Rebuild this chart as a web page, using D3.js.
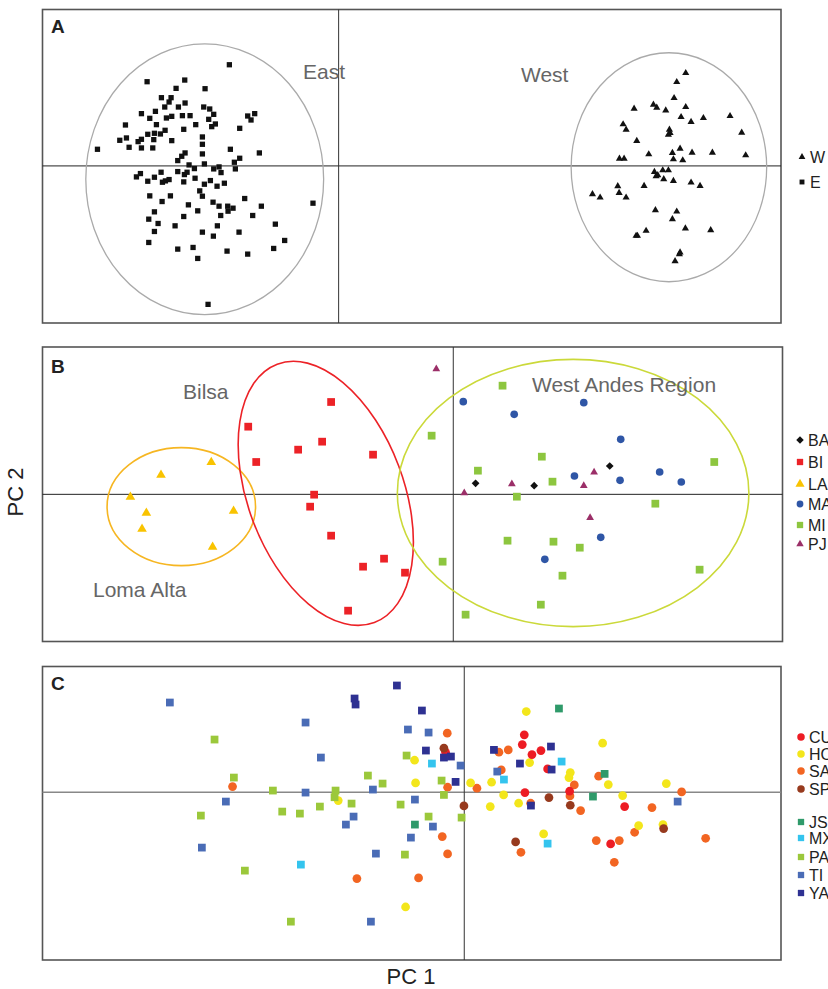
<!DOCTYPE html>
<html>
<head>
<meta charset="utf-8">
<script src="https://cdn.jsdelivr.net/npm/d3@7/dist/d3.min.js"></script>
<style>
  body { margin: 0; background: #fff; }
  svg text { font-family: "Liberation Sans", Arial, sans-serif; }
</style>
</head>
<body>
<div id="vis"></div>
<script>
// ---- panel A : East / West ----
const eastPts = [
  [-3.28,3.04],[-5.75,2.53],[-4.62,2.58],[-4.88,2.33],[-4.01,2.32],[-5.32,2.05],[-5.03,2.05],[-5.09,1.92],
  [-5.22,1.77],[-4.81,1.77],[-4.61,1.89],[-4.05,1.77],[-3.87,1.71],[-3.75,1.55],[-3.90,1.40],[-5.92,1.57],
  [-5.50,1.64],[-5.67,1.43],[-5.17,1.44],[-5.01,1.49],[-4.69,1.51],[-4.46,1.51],[-2.73,1.50],[-2.52,1.57],
  [-2.63,1.38],[-6.40,1.23],[-5.47,1.24],[-4.65,1.10],[-4.29,1.24],[-3.81,1.18],[-3.70,1.26],[-2.97,1.13],
  [-6.57,0.77],[-6.37,0.84],[-6.29,0.56],[-6.02,0.73],[-5.92,0.80],[-5.73,0.95],[-5.55,0.79],[-5.53,0.98],
  [-5.35,0.96],[-5.21,1.07],[-5.01,0.76],[-5.92,0.54],[-5.58,0.54],[-7.24,0.50],[-4.09,0.87],[-4.09,0.65],
  [-4.09,0.36],[-3.25,0.50],[-2.38,0.39],[-4.71,0.29],[-4.61,0.39],[-4.83,0.16],[-2.97,0.23],[-3.13,0.11],
  [-3.10,-0.09],[-4.49,0.03],[-4.33,-0.08],[-4.03,0.06],[-3.75,-0.09],[-3.59,-0.03],[-3.53,-0.20],[-6.07,-0.33],
  [-5.95,-0.23],[-5.73,-0.46],[-5.53,-0.34],[-5.33,-0.19],[-5.29,-0.49],[-5.20,-0.45],[-5.09,-0.41],[-4.83,-0.17],
  [-4.63,-0.26],[-4.55,-0.19],[-4.65,-0.48],[-4.31,-0.37],[-4.03,-0.55],[-3.85,-0.44],[-4.17,-0.75],[-4.09,-0.91],
  [-3.65,-0.61],[-3.43,-0.52],[-5.67,-0.90],[-5.05,-0.90],[-5.30,-1.07],[-4.51,-1.17],[-4.23,-1.35],[-4.65,-1.52],
  [-3.77,-1.09],[-3.59,-1.21],[-3.33,-1.21],[-3.32,-1.36],[-3.17,-1.27],[-3.54,-1.49],[-2.82,-0.98],[-2.32,-1.21],
  [-2.58,-1.49],[-0.77,-1.12],[-5.53,-1.38],[-5.70,-1.60],[-5.42,-1.73],[-4.91,-1.80],[-5.53,-1.97],[-5.70,-2.30],
  [-4.09,-1.99],[-3.76,-2.11],[-3.64,-1.80],[-2.99,-1.99],[-1.90,-1.75],[-4.83,-2.50],[-4.37,-2.45],[-4.23,-2.78],
  [-3.35,-2.56],[-2.73,-2.65],[-1.95,-2.48],[-1.62,-2.24],[-3.92,-4.16]
];
const westPts = [
  [10.42,2.79],[10.15,2.52],[10.07,2.04],[8.87,1.72],[9.45,1.84],[9.55,1.75],[9.82,1.67],[10.42,1.77],
  [10.28,1.47],[10.58,1.32],[10.95,1.44],[11.75,1.50],[8.54,1.25],[8.63,1.09],[9.93,1.09],[9.95,0.99],
  [9.90,0.94],[12.10,1.00],[8.95,0.75],[8.43,0.22],[8.57,0.22],[9.31,0.35],[10.02,0.39],[10.25,0.52],
  [10.05,0.20],[10.33,0.17],[10.61,0.40],[11.22,0.40],[12.22,0.32],[9.48,-0.18],[9.58,-0.28],[9.73,-0.13],
  [9.90,-0.13],[9.53,-0.31],[9.76,-0.40],[10.05,-0.45],[10.58,-0.50],[10.85,-0.60],[9.17,-0.60],[7.62,-0.85],
  [7.85,-0.95],[8.38,-0.61],[8.42,-0.81],[8.63,-0.95],[9.51,-1.33],[10.15,-1.37],[10.02,-1.60],[10.41,-1.88],
  [11.17,-1.93],[9.23,-1.95],[8.93,-2.10],[8.97,-2.10],[10.25,-2.60],[10.23,-2.65],[10.10,-2.86]
];
// ellipses: [cx, cy, rx, ry, angle]
const eastEllipse = [-4.02, -0.40, 3.57, 4.07, 0];
const westEllipse = [9.915, -0.04, 2.935, 3.44, 0];

// ---- panel B : west Ecuador sites ----
const baPts = [[0.67,0.33],[2.43,0.26],[4.70,0.85]];
const biPts = [[-3.67,2.77],[-6.16,2.03],[-5.92,0.97],[-4.66,1.34],[-3.94,1.58],[-2.41,1.19],[-4.18,-0.01],
  [-4.30,-0.37],[-3.67,-1.24],[-2.71,-2.17],[-2.08,-1.93],[-1.45,-2.35],[-3.16,-3.49]];
const laPts = [[-7.27,0.96],[-8.78,0.58],[-9.70,-0.08],[-9.22,-0.56],[-9.35,-1.04],[-6.60,-0.50],[-7.23,-1.58]];
const maPts = [[0.30,2.78],[1.83,2.40],[3.92,2.75],[5.03,1.65],[3.64,0.55],[5.01,0.42],[6.20,0.67],[6.85,0.37],
  [4.43,-1.29],[2.75,-1.95]];
const miPts = [[1.48,3.26],[-0.65,1.76],[2.66,1.13],[0.74,0.71],[2.98,0.38],[1.91,-0.07],[7.84,0.97],[6.07,-0.28],
  [1.63,-1.39],[3.01,-1.42],[3.80,-1.60],[-0.32,-2.02],[3.28,-2.44],[7.40,-2.26],[2.63,-3.31],[0.37,-3.61]];
const pjPts = [[-0.51,3.76],[0.33,0.04],[1.76,0.31],[4.23,0.66],[3.92,0.26],[4.11,-0.70]];
const laEllipse = [-8.17, -0.37, 2.23, 1.77, 0];
const biEllipse = [-3.83, 0.03, 2.34, 4.14, -20.6];
const miEllipse = [3.60, 0.04, 5.28, 4.01, 0];

// ---- panel C : east Ecuador sites ----
const cuPts = [[-0.56,1.20],[1.80,1.72],[1.74,1.43],[2.03,1.13],[2.30,1.25],[2.50,0.70],[1.82,-0.01],[3.16,0.03],
  [4.81,-0.43],[4.39,-1.55]];
const hoPts = [[-1.49,0.96],[-1.46,0.28],[-3.78,-0.25],[-1.76,-3.44],[1.86,2.42],[4.15,1.47],[1.96,0.89],[3.18,0.59],
  [3.14,0.44],[4.32,0.23],[0.19,0.28],[0.82,0.30],[1.18,-0.08],[0.78,-0.43],[1.63,-0.33],[2.38,-1.25],
  [4.75,-0.10],[6.06,0.26],[5.23,-1.00],[5.96,-0.97]];
const saPts = [[-6.95,0.17],[-3.22,-2.59],[-1.37,-2.57],[-0.66,-1.33],[-0.50,-1.85],[-0.51,1.77],[-0.50,0.15],
  [0.38,0.12],[1.04,1.20],[1.32,1.27],[1.11,0.67],[3.30,0.22],[4.03,0.48],[3.17,-0.11],[3.49,-0.55],[1.99,-0.33],
  [5.63,-0.46],[6.52,0.01],[5.11,-1.20],[4.65,-1.45],[3.96,-1.45],[4.50,-2.10],[1.70,-1.80],[7.24,-1.38]];
const spPts = [[-0.61,1.32],[-0.01,-0.41],[2.54,-0.16],[3.18,-0.39],[1.54,-1.49],[5.98,-1.09]];
const jsPts = [[-1.48,-0.97],[2.84,2.51],[4.21,0.55],[3.86,-0.13]];
const mxPts = [[-0.97,0.86],[-4.90,-2.17],[1.19,0.38],[2.92,0.92],[2.50,-1.54]];
const paPts = [[-7.49,1.58],[-6.91,0.44],[-5.74,0.05],[-3.86,0.05],[-3.89,-0.15],[-5.46,-0.58],[-4.93,-0.64],
  [-4.33,-0.43],[-7.90,-0.70],[-3.38,-0.34],[-2.89,0.50],[-2.45,0.26],[-1.73,1.10],[-1.91,-0.37],[-1.07,-0.73],
  [-1.78,-1.87],[-6.58,-2.35],[-5.20,-3.88],[-0.68,0.35],[-0.61,-0.08],[-0.08,-0.76]];
const tiPts = [[-8.83,2.69],[-4.76,2.09],[-4.30,1.04],[-7.15,-0.28],[-4.76,-0.01],[-7.87,-1.66],[-3.32,-0.73],
  [-3.55,-0.97],[-2.74,0.08],[-1.69,1.88],[-1.07,1.79],[-1.48,-0.22],[-0.94,-1.03],[-1.60,-1.36],[-2.65,-1.84],
  [-2.80,-3.88],[-0.11,0.80],[0.99,0.62],[6.40,-0.28]];
const yaPts = [[-2.02,3.20],[-3.29,2.81],[-3.26,2.63],[-1.27,2.45],[-1.15,1.25],[-0.61,1.04],[-0.40,1.07],
  [-0.26,0.31],[0.89,1.27],[1.67,0.86],[2.60,1.37],[2.62,0.68],[2.00,-0.40]];

const W = 828, H = 989;
const svg = d3.select("#vis").append("svg").attr("width", W).attr("height", H);

function makePanel(box, xDom, yDom, letter) {
  const x = d3.scaleLinear().domain(xDom).range([box.left, box.right]);
  const y = d3.scaleLinear().domain(yDom).range([box.bottom, box.top]);
  const g = svg.append("g");
  g.append("rect")
    .attr("x", box.left).attr("y", box.top)
    .attr("width", box.right - box.left).attr("height", box.bottom - box.top)
    .attr("fill", "none").attr("stroke", "#555").attr("stroke-width", 1.6);
  // zero axes
  g.append("line").attr("class", "hz")
    .attr("x1", box.left).attr("x2", box.right).attr("y1", y(0)).attr("y2", y(0))
    .attr("stroke", box.hColor || "#222").attr("stroke-width", box.hWidth || 1);
  g.append("line")
    .attr("x1", x(0)).attr("x2", x(0)).attr("y1", box.top).attr("y2", box.bottom)
    .attr("stroke", "#333").attr("stroke-width", 1);
  g.append("text").attr("x", 51).attr("y", box.letterY)
    .attr("font-size", 19).attr("font-weight", "bold").attr("fill", "#222").text(letter);
  return { g, x, y };
}

function drawEllipse(p, e, color, width) {
  const [cx, cy, rx, ry, ang] = e;
  p.g.append("ellipse")
    .attr("transform", `translate(${p.x(cx)},${p.y(cy)}) rotate(${ang})`)
    .attr("rx", p.x(cx + rx) - p.x(cx))
    .attr("ry", p.y(cy) - p.y(cy + ry))
    .attr("fill", "none").attr("stroke", color).attr("stroke-width", width);
}

function drawPoints(p, pts, type, size, color, rot) {
  const sym = d3.symbol().type(type).size(size);
  p.g.append("g").selectAll("path").data(pts).join("path")
    .attr("d", sym)
    .attr("transform", d => `translate(${p.x(d[0])},${p.y(d[1])})` + (rot ? ` rotate(${rot})` : ""))
    .attr("fill", color);
}

function drawLabel(p, txt, xx, yy) {
  p.g.append("text").attr("x", xx).attr("y", yy)
    .attr("font-size", 21).attr("fill", "#666").text(txt);
}

function drawLegend(items) {
  const lg = svg.append("g");
  items.forEach(it => {
    const sym = d3.symbol().type(it.type).size(it.size);
    lg.append("path").attr("d", sym)
      .attr("transform", `translate(${it.mx},${it.y})` + (it.rot ? ` rotate(${it.rot})` : ""))
      .attr("fill", it.color);
    lg.append("text").attr("x", it.mx + 8).attr("y", it.y).attr("dy", "0.36em")
      .attr("font-size", 16).attr("fill", "#222").text(it.label);
  });
}

// ---------- A ----------
const pA = makePanel({ left: 42.5, right: 781, top: 9.5, bottom: 323, letterY: 33 },
  [-8.89, 13.28], [-4.72, 4.70], "A");
drawEllipse(pA, eastEllipse, "#aaa", 1.3);
drawEllipse(pA, westEllipse, "#aaa", 1.3);
drawPoints(pA, eastPts, d3.symbolSquare, 28, "#111");
drawPoints(pA, westPts, d3.symbolTriangle, 22, "#111");
drawLabel(pA, "East", 303, 79);
drawLabel(pA, "West", 521, 82);
drawLegend([
  { label: "W", type: d3.symbolTriangle, size: 20, color: "#111", mx: 802, y: 157 },
  { label: "E", type: d3.symbolSquare, size: 24, color: "#111", mx: 802, y: 182 }
]);

// ---------- B ----------
const colB = { BA: "#111", BI: "#ec2227", LA: "#f9c300", MA: "#2f56a6", MI: "#8dc63f", PJ: "#9b2f68" };
const pB = makePanel({ left: 42.5, right: 782.5, top: 347, bottom: 641.5, letterY: 373 },
  [-12.34, 9.89], [-4.415, 4.42], "B");
drawEllipse(pB, laEllipse, "#f6b622", 1.6);
drawEllipse(pB, biEllipse, "#ec2227", 1.6);
drawEllipse(pB, miEllipse, "#cbd93a", 1.6);
drawPoints(pB, miPts, d3.symbolSquare, 60, colB.MI);
drawPoints(pB, biPts, d3.symbolSquare, 60, colB.BI);
drawPoints(pB, laPts, d3.symbolTriangle, 40, colB.LA);
drawPoints(pB, maPts, d3.symbolCircle, 46, colB.MA);
drawPoints(pB, pjPts, d3.symbolTriangle, 26, colB.PJ);
drawPoints(pB, baPts, d3.symbolSquare, 30, colB.BA, 45);
drawLabel(pB, "Bilsa", 183, 399);
drawLabel(pB, "Loma Alta", 93, 597);
drawLabel(pB, "West Andes Region", 532, 392);
drawLegend([
  { label: "BA", type: d3.symbolSquare, size: 28, color: colB.BA, mx: 800, y: 440, rot: 45 },
  { label: "BI", type: d3.symbolSquare, size: 40, color: colB.BI, mx: 800, y: 462 },
  { label: "LA", type: d3.symbolTriangle, size: 36, color: colB.LA, mx: 800, y: 484 },
  { label: "MA", type: d3.symbolCircle, size: 36, color: colB.MA, mx: 800, y: 504 },
  { label: "MI", type: d3.symbolSquare, size: 40, color: colB.MI, mx: 800, y: 525 },
  { label: "PJ", type: d3.symbolTriangle, size: 24, color: colB.PJ, mx: 800, y: 544 }
]);

// ---------- C ----------
const colC = { CU: "#ed1c24", HO: "#f3e61b", SA: "#f26522", SP: "#973a1e",
  JS: "#2f9a6a", MX: "#34c4ee", PA: "#9bc83b", TI: "#4a6cb6", YA: "#2e3192" };
const pC = makePanel({ left: 42.5, right: 781, top: 666.5, bottom: 960, letterY: 690, hColor: "#888", hWidth: 1.6 },
  [-12.65, 9.50], [-5.03, 3.77], "C");
drawPoints(pC, saPts, d3.symbolCircle, 60, colC.SA);
drawPoints(pC, hoPts, d3.symbolCircle, 60, colC.HO);
drawPoints(pC, cuPts, d3.symbolCircle, 60, colC.CU);
drawPoints(pC, spPts, d3.symbolCircle, 60, colC.SP);
drawPoints(pC, paPts, d3.symbolSquare, 60, colC.PA);
drawPoints(pC, tiPts, d3.symbolSquare, 60, colC.TI);
drawPoints(pC, mxPts, d3.symbolSquare, 60, colC.MX);
drawPoints(pC, jsPts, d3.symbolSquare, 60, colC.JS);
drawPoints(pC, yaPts, d3.symbolSquare, 60, colC.YA);
drawLegend([
  { label: "CU", type: d3.symbolCircle, size: 44, color: colC.CU, mx: 801, y: 737 },
  { label: "HO", type: d3.symbolCircle, size: 44, color: colC.HO, mx: 801, y: 754 },
  { label: "SA", type: d3.symbolCircle, size: 44, color: colC.SA, mx: 801, y: 771 },
  { label: "SP", type: d3.symbolCircle, size: 44, color: colC.SP, mx: 801, y: 789 },
  { label: "JS", type: d3.symbolSquare, size: 40, color: colC.JS, mx: 801, y: 822 },
  { label: "MX", type: d3.symbolSquare, size: 40, color: colC.MX, mx: 801, y: 838 },
  { label: "PA", type: d3.symbolSquare, size: 40, color: colC.PA, mx: 801, y: 857 },
  { label: "TI", type: d3.symbolSquare, size: 40, color: colC.TI, mx: 801, y: 875 },
  { label: "YA", type: d3.symbolSquare, size: 40, color: colC.YA, mx: 801, y: 893 }
]);

// axis titles
svg.append("text").attr("transform", "translate(23,492) rotate(-90)")
  .attr("text-anchor", "middle").attr("font-size", 22).attr("fill", "#222").text("PC 2");
svg.append("text").attr("x", 411).attr("y", 984)
  .attr("text-anchor", "middle").attr("font-size", 22).attr("fill", "#222").text("PC 1");
</script>
</body>
</html>
